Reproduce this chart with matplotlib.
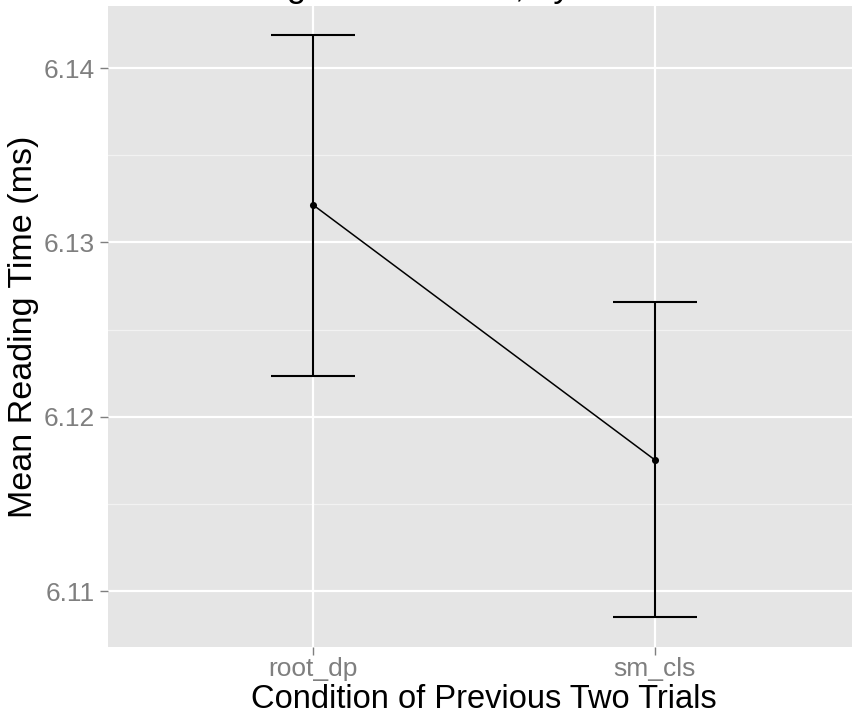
import matplotlib
matplotlib.use("Agg")
import matplotlib.pyplot as plt
import numpy as np

# data
conditions = ["root_dp", "sm_cls"]
means = [6.13215, 6.11752]
upper = [6.14190, 6.12660]
lower = [6.12235, 6.10850]

title = "Mean Reading Time on Trial, by Condition"
xlabel = "Condition of Previous Two Trials"
ylabel = "Mean Reading Time (ms)"
yticks = [6.11, 6.12, 6.13, 6.14]
yminor = [6.105, 6.115, 6.125, 6.135]

plt.rcParams['font.family'] = ['Liberation Sans', 'DejaVu Sans']

W, H = 852, 714
fig = plt.figure(figsize=(W / 100, H / 100), dpi=100)
# panel runs past the right edge (the reference is cropped)
left, right, top, bottom = 108, 860, 6, 647
ax = fig.add_axes([left / W, 1 - bottom / H, (right - left) / W, (bottom - top) / H])

ax.set_facecolor("#E5E5E5")
for s in ax.spines.values():
    s.set_visible(False)

x = np.arange(1, len(conditions) + 1)
ax.set_xlim(0.4, len(conditions) + 0.6)
ax.set_ylim(6.10679, 6.14356)

for yv in yminor:
    ax.axhline(yv, color="#F2F2F2", lw=0.9, zorder=0)
for yv in yticks:
    ax.axhline(yv, color="white", lw=1.6, zorder=0)
for xv in x:
    ax.axvline(xv, color="white", lw=1.6, zorder=0)

m = np.array(means)
ax.errorbar(x, m, yerr=[m - np.array(lower), np.array(upper) - m],
            fmt="none", ecolor="black", elinewidth=1.5, capsize=30.5,
            capthick=1.5, zorder=3)
ax.plot(x, m, color="black", lw=1.1, zorder=3)
ax.scatter(x, m, s=26, color="black", zorder=4, linewidths=0)

ax.set_xticks(x)
ax.set_xticklabels(conditions)
ax.set_yticks(yticks)
ax.set_yticklabels(["%.2f" % v for v in yticks])
ax.tick_params(axis="both", colors="#7F7F7F", labelsize=19, length=5.5, width=1)
ax.tick_params(axis="y", pad=4)
ax.tick_params(axis="x", pad=2)

ax.set_xlabel(xlabel, fontsize=23.5, color="black", labelpad=2)
ax.set_ylabel(ylabel, fontsize=24.5, color="black", labelpad=3)

fig.text(80 / W, 1 + 3 / H, title, fontsize=25, ha="left", va="baseline")

plt.savefig("out.png", dpi=100)
